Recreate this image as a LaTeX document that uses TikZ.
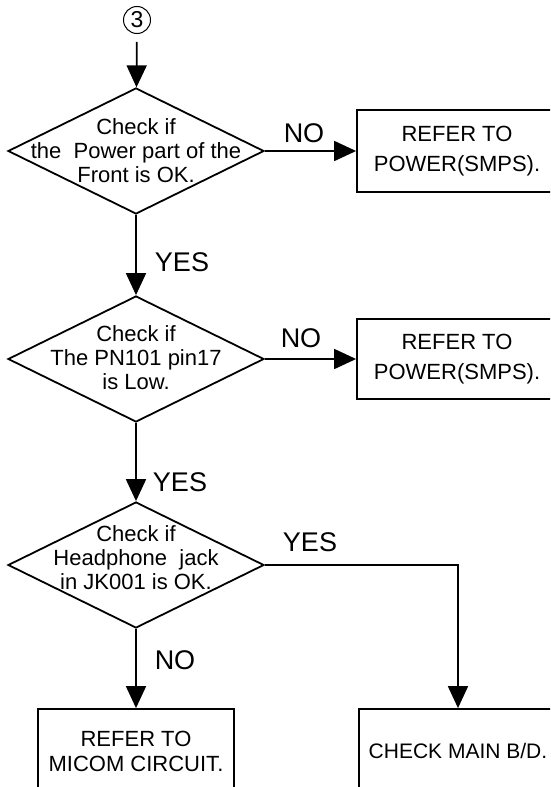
\documentclass[tikz,border=0pt]{standalone}
\usepackage{fontspec}
\setmainfont{Liberation Sans}
\usetikzlibrary{arrows.meta}
\usetikzlibrary{shapes.geometric}
\usetikzlibrary{positioning}

\tikzset{
    decision/.style = {draw, diamond, inner sep = 0pt, minimum width = 256pt, minimum height = 126pt},
    action/.style = {draw, rectangle, align = center, minimum width = 200pt, font = \fontsize{22}{30}\selectfont},
    query/.style = {align = center, font = \fontsize{22}{24}\selectfont},
    answer/.style = {font = \fontsize{27}{30}\selectfont},
}

\begin{document}
\begin{tikzpicture}
    [   x = 1pt, y = -1pt
    ,   > = {Triangle[length = 22pt, width = 20pt]}
    ,   line width = 1.8pt
    ]
    \useasboundingbox (0,0) rectangle (550,787);
    \clip (0,0) rectangle (550,787);

    % entry point
    \node[draw, circle, line width = 1pt, inner sep = 0pt, minimum size = 27pt,
          font = \fontsize{23}{23}\selectfont] (C3) at (137,20) {3};

    % decisions
    \node[decision] (D1) at (136,151) {};
    \node[query] (T1) at (136,151) {Check if\\the\ \ Power part of the\\Front is OK.};

    \node[decision] (D2) at (136,359) {};
    \node[query] (T2) at (136,358) {Check if\\The PN101 pin17\\is Low.};

    \node[decision] (D3) at (136,565) {};
    \node[query] (T3) at (136,558) {Check if\\Headphone\ \ jack\\in JK001 is OK.};

    % results
    \node[action, minimum height = 82pt] (B1) at (457,151) {REFER TO\\POWER(SMPS).};
    \node[action, minimum height = 80pt] (B2) at (457,359) {REFER TO\\POWER(SMPS).};
    \node[action, minimum width = 196pt, minimum height = 84pt,
          font = \fontsize{22}{25}\selectfont] (B4) at (136,751) {REFER TO\\MICOM CIRCUIT.};
    \node[action, minimum width = 198pt, minimum height = 84pt,
          font = \fontsize{21}{25}\selectfont] (B5) at (458,751) {CHECK MAIN B/D.};

    % answers
    \node[answer] (N1) at (304,133) {NO};
    \node[answer] (Y1) at (182,262) {YES};
    \node[answer] (N2) at (301,338) {NO};
    \node[answer] (Y2) at (180,482) {YES};
    \node[answer] (Y3) at (310,542) {YES};
    \node[answer] (N3) at (175,660) {NO};

    \draw[->, shorten <= 8pt] (C3) -- (D1);
    \draw[->] (D1) -- (B1);
    \draw[->] (D1) -- (D2);
    \draw[->] (D2) -- (B2);
    \draw[->] (D2) -- (D3);
    \draw[->] (D3) -- (B4);
    \draw[->] (D3) -| (B5);
\end{tikzpicture}
\end{document}
